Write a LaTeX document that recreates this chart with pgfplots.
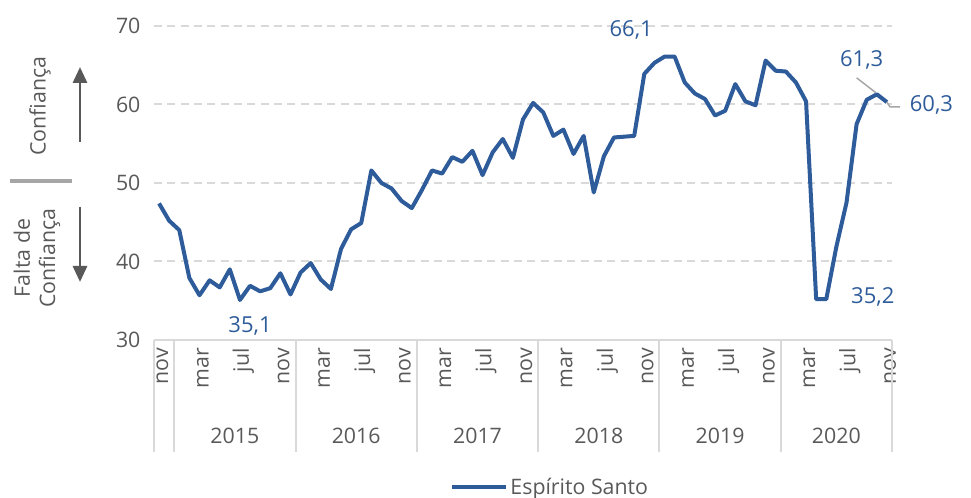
\documentclass[border=0pt]{standalone}
\usepackage{fontspec}
\setmainfont{Open Sans}
\usepackage{pgfplots}
\pgfplotsset{compat=1.18}
\usetikzlibrary{arrows.meta}
\definecolor{lineblue}{RGB}{46,92,154}
\definecolor{txtgray}{RGB}{89,89,89}
\definecolor{gridgray}{RGB}{217,217,217}
\definecolor{leadgray}{RGB}{166,166,166}
\newcommand{\fs}{\fontsize{16}{19}\selectfont}
\begin{document}
\begin{tikzpicture}
\useasboundingbox (-115.5pt,-118.5pt) rectangle (612.75pt,255pt);
\begin{axis}[
  at={(0pt,0pt)}, anchor=south west,
  scale only axis, width=553.5pt, height=235.5pt,
  xmin=-0.5, xmax=72.5, ymin=30, ymax=70,
  axis x line*=bottom, axis y line*=left,
  x axis line style={gridgray, line width=1.5pt, -},
  y axis line style={draw=none},
  ytick={30,40,50,60,70},
  ymajorgrids,
  grid style={gridgray, line width=1.5pt, dash pattern=on 6pt off 4pt},
  xtick={0,4,...,72},
  xticklabels={nov,mar,jul,nov,mar,jul,nov,mar,jul,nov,mar,jul,nov,mar,jul,nov,mar,jul,nov},
  major tick length=0pt,
  tick label style={font=\fs, text=txtgray},
  x tick label style={xshift=2.5pt, rotate=90, anchor=east, inner sep=0pt},
  xticklabel shift=6pt,
  y tick label style={anchor=east, inner sep=0pt},
  yticklabel shift=10pt,
  /pgf/number format/assume math mode=true,
  clip=false,
  legend style={at={(axis cs:28.8,11.27)}, anchor=west, draw=none, fill=none,
    font=\fs, text=txtgray, inner sep=0pt},
  legend image code/.code={\draw[#1] (0pt,0pt) -- (40pt,0pt);},
]
\addplot[lineblue, line width=3pt, line join=round] coordinates {
(0,47.4) (1,45.2) (2,44.0) (3,37.9) (4,35.7) (5,37.6) (6,36.7) (7,39.0)
(8,35.1) (9,36.9) (10,36.2) (11,36.6) (12,38.5) (13,35.8) (14,38.6) (15,39.8)
(16,37.7) (17,36.5) (18,41.6) (19,44.1) (20,44.9) (21,51.6) (22,50.0) (23,49.3)
(24,47.7) (25,46.8) (26,49.1) (27,51.6) (28,51.2) (29,53.3) (30,52.7) (31,54.1)
(32,51.0) (33,53.9) (34,55.6) (35,53.2) (36,58.1) (37,60.2) (38,59.0) (39,56.0)
(40,56.8) (41,53.7) (42,56.0) (43,48.8) (44,53.4) (45,55.8) (46,55.9) (47,56.0)
(48,63.9) (49,65.3) (50,66.1) (51,66.1) (52,62.8) (53,61.4) (54,60.7) (55,58.6)
(56,59.2) (57,62.6) (58,60.4) (59,59.9) (60,65.6) (61,64.3) (62,64.2) (63,62.8)
(64,60.4) (65,35.2) (66,35.2) (67,41.9) (68,47.5) (69,57.5) (70,60.6) (71,61.3)
(72,60.3)
};
\addlegendentry{Espírito Santo}
% category group separators
\draw[gridgray, line width=1.5pt] (axis cs:-0.5,30) -- (axis cs:-0.5,15.73);
\draw[gridgray, line width=1.5pt] (axis cs:1.5,30) -- (axis cs:1.5,15.73);
\draw[gridgray, line width=1.5pt] (axis cs:13.5,30) -- (axis cs:13.5,15.73);
\draw[gridgray, line width=1.5pt] (axis cs:25.5,30) -- (axis cs:25.5,15.73);
\draw[gridgray, line width=1.5pt] (axis cs:37.5,30) -- (axis cs:37.5,15.73);
\draw[gridgray, line width=1.5pt] (axis cs:49.5,30) -- (axis cs:49.5,15.73);
\draw[gridgray, line width=1.5pt] (axis cs:61.5,30) -- (axis cs:61.5,15.73);
\draw[gridgray, line width=1.5pt] (axis cs:72.5,30) -- (axis cs:72.5,15.73);
% year labels
\node[font=\fs, text=txtgray] at (axis cs:7.5,17.77) {2015};
\node[font=\fs, text=txtgray] at (axis cs:19.5,17.77) {2016};
\node[font=\fs, text=txtgray] at (axis cs:31.5,17.77) {2017};
\node[font=\fs, text=txtgray] at (axis cs:43.5,17.77) {2018};
\node[font=\fs, text=txtgray] at (axis cs:55.5,17.77) {2019};
\node[font=\fs, text=txtgray] at (axis cs:67,17.77) {2020};
% data labels
\node[font=\fontsize{16.5}{19}\selectfont, text=lineblue] at (axis cs:46.7,69.5) {66,1};
\node[font=\fontsize{16.5}{19}\selectfont, text=lineblue] at (axis cs:9.0,31.8) {35,1};
\node[font=\fontsize{16.5}{19}\selectfont, text=lineblue] at (axis cs:69.5,65.7) {61,3};
\node[font=\fontsize{16.5}{19}\selectfont, text=lineblue] at (axis cs:76.4,59.9) {60,3};
\node[font=\fontsize{16.5}{19}\selectfont, text=lineblue] at (axis cs:70.6,35.5) {35,2};
\draw[leadgray, line width=1.1pt] (axis cs:69.0,63.4) -- (axis cs:70.9,61.5);
\draw[leadgray, line width=1.1pt] (axis cs:72.0,60.3) -- (axis cs:72.3,59.7) -- (axis cs:73.3,59.7);
\end{axis}
% left side annotations
\draw[txtgray, line width=2.2pt, -{Triangle[width=10.5pt,length=12pt]}] (-55.5pt,148.5pt) -- (-55.5pt,204.75pt);
\draw[txtgray, line width=2.2pt, -{Triangle[width=10.5pt,length=12pt]}] (-55.5pt,99.75pt) -- (-55.5pt,43.5pt);
\draw[leadgray, line width=3pt] (-108pt,119.25pt) -- (-61.5pt,119.25pt);
\node[font=\fs, text=txtgray, rotate=90] at (-85.5pt,175.5pt) {Confiança};
\node[font=\fs, text=txtgray, rotate=90, align=center] at (-87.75pt,61.5pt) {Falta de\\Confiança};
\end{tikzpicture}
\end{document}
